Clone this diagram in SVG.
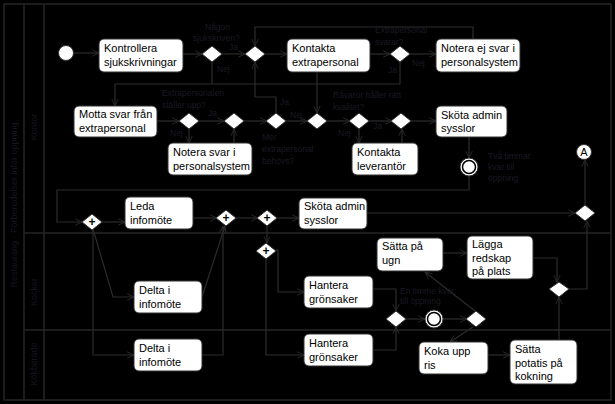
<svg xmlns="http://www.w3.org/2000/svg" width="615" height="404" viewBox="0 0 615 404">
<defs>
<marker id="a" viewBox="0 0 10 10" refX="9.5" refY="5" markerWidth="8" markerHeight="8" orient="auto" markerUnits="userSpaceOnUse"><path d="M1,1 L9.5,5 L1,9" fill="none" stroke="#2c2c2c" stroke-width="1.1"/></marker>
</defs>
<style>
.bg{fill:#000}
.pool{fill:none;stroke:#262626;stroke-width:1.5}
.e{fill:none;stroke:#2c2c2c;stroke-width:1.2;marker-end:url(#a)}
.n{fill:none;stroke:#2c2c2c;stroke-width:1.2}
.box{fill:#fff;stroke:#333;stroke-width:1}
.t{font-family:"Liberation Sans",Arial,sans-serif;font-size:11px;fill:#000}
.d{fill:#fff;stroke:#333;stroke-width:1}
.p{font-family:"Liberation Sans",Arial,sans-serif;font-size:12px;fill:#000;text-anchor:middle;font-weight:bold}
.l{font-family:"Liberation Sans",Arial,sans-serif;font-size:8.5px;fill:#1a1a22}
.ln{font-family:"Liberation Sans",Arial,sans-serif;font-size:9px;fill:#15151f;text-anchor:middle}
</style>
<rect class="bg" x="0" y="0" width="615" height="404"/>
<g id="pool">
<rect class="pool" x="4" y="4" width="607" height="396"/>
<line class="pool" x1="24" y1="4" x2="24" y2="400"/>
<line class="pool" x1="44" y1="4" x2="44" y2="400"/>
<line class="pool" x1="24" y1="233" x2="611" y2="233"/>
<line class="pool" x1="24" y1="330" x2="611" y2="330"/>
<text class="ln" transform="translate(17,205) rotate(-90)">Restaurang - Förberedelser inför öppning</text>
<text class="ln" transform="translate(37,127) rotate(-90)">Kontor</text>
<text class="ln" transform="translate(37,292) rotate(-90)">Kocker</text>
<text class="ln" transform="translate(37,364) rotate(-90)">Kökbiträde</text>
</g>
<g id="connectors">
<path class="e" d="M73,53 H99"/>
<path class="e" d="M182,54 H202"/>
<path class="e" d="M222,54 H245"/>
<path class="n" d="M212,62 V84"/>
<path class="e" d="M265,54 H287"/>
<path class="e" d="M473,39 V27 H255 V46"/>
<path class="e" d="M370,54 H390"/>
<path class="e" d="M409,54 H436"/>
<path class="e" d="M400,62 V84 H115 V106"/>
<path class="e" d="M317,72 V113"/>
<path class="e" d="M157,121 H179"/>
<path class="e" d="M199,121 H224"/>
<path class="e" d="M189,129 V143"/>
<path class="e" d="M234,143 V129"/>
<path class="e" d="M243,121 H267"/>
<path class="e" d="M276,113 V97 H255 V62"/>
<path class="e" d="M286,121 H307"/>
<path class="e" d="M327,121 H350"/>
<path class="e" d="M359,129 V143"/>
<path class="e" d="M368,121 H392"/>
<path class="e" d="M402,143 V129"/>
<path class="e" d="M410,121 H436"/>
<path class="e" d="M469,137 V158"/>
<path class="e" d="M469,176 V190 H57 V222 H82"/>
<path class="e" d="M102,222 H125"/>
<path class="e" d="M93,229 L113,297 H134"/>
<path class="e" d="M93,229 V355 H134"/>
<path class="e" d="M193,218 H217"/>
<path class="e" d="M202,297 L225,226"/>
<path class="e" d="M202,355 H223 V226"/>
<path class="e" d="M236,218 H258"/>
<path class="e" d="M277,218 H299"/>
<path class="e" d="M267,226 V243"/>
<path class="e" d="M276,250 H278 V292 H304"/>
<path class="e" d="M266,258 V355 H304"/>
<path class="e" d="M367,213 H575"/>
<path class="e" d="M585,206 V160"/>
<path class="e" d="M373,289 H396 V311"/>
<path class="e" d="M373,350 H396 V327"/>
<path class="e" d="M406,319 H425"/>
<path class="e" d="M443,319 H467"/>
<path class="e" d="M475,311 L425,272"/>
<path class="e" d="M473,327 L450,342"/>
<path class="e" d="M443,253 H467"/>
<path class="e" d="M533,258 H557 V282"/>
<path class="e" d="M559,340 V297"/>
<path class="e" d="M568,289 H587 V221"/>
<path class="e" d="M488,355 H510"/>
</g>
<g id="edge-labels">
<text class="l" x="205" y="30">Någon</text>
<text class="l" x="193" y="41">sjukskriven?</text>
<text class="l" x="229" y="50">Ja</text>
<text class="l" x="217" y="72">Nej</text>
<text class="l" x="375" y="33">Extrapersonal</text>
<text class="l" x="375" y="45">svarar?</text>
<text class="l" x="412" y="66">Nej</text>
<text class="l" x="388" y="73">Ja</text>
<text class="l" x="162" y="96">Extrapersonalen</text>
<text class="l" x="162" y="108">ställer upp?</text>
<text class="l" x="208" y="116">Ja</text>
<text class="l" x="170" y="136">Nej</text>
<text class="l" x="280" y="105">Ja</text>
<text class="l" x="290" y="118">Nej</text>
<text class="l" x="262" y="140">Mer</text>
<text class="l" x="262" y="152">extrapersonal</text>
<text class="l" x="262" y="164">behövs?</text>
<text class="l" x="333" y="98">Råvaror håller rätt</text>
<text class="l" x="333" y="110">kvalitet?</text>
<text class="l" x="338" y="136">Nej</text>
<text class="l" x="373" y="129">Ja</text>
<text class="l" x="488" y="159">Två timmar</text>
<text class="l" x="488" y="170">kvar till</text>
<text class="l" x="488" y="181">öppning</text>
<text class="l" x="400" y="294">En timme kvar</text>
<text class="l" x="400" y="304">till öppning</text>
</g>
<g id="start"><circle cx="66" cy="53" r="7.5" fill="#fff" stroke="#333"/></g>
<g id="n-kontrollera"><rect class="box" x="99" y="39" width="84" height="33" rx="5"/><text class="t" x="104" y="52">Kontrollera</text><text class="t" x="104" y="66">sjukskrivningar</text></g>
<g id="d1"><path class="d" d="M212,46 L222,54 L212,62 L202,54 Z"/></g>
<g id="d2"><path class="d" d="M255,46 L265,54 L255,62 L245,54 Z"/></g>
<g id="n-kontakta-extra"><rect class="box" x="287" y="39" width="83" height="33" rx="5"/><text class="t" x="292" y="52">Kontakta</text><text class="t" x="292" y="66">extrapersonal</text></g>
<g id="d3"><path class="d" d="M400,46 L410,54 L400,62 L390,54 Z"/></g>
<g id="n-notera-ej"><rect class="box" x="436" y="39" width="84" height="33" rx="5"/><text class="t" x="441" y="52">Notera ej svar i</text><text class="t" x="441" y="66">personalsystem</text></g>
<g id="n-motta"><rect class="box" x="74" y="106" width="83" height="31" rx="5"/><text class="t" x="79" y="118">Motta svar från</text><text class="t" x="79" y="132">extrapersonal</text></g>
<g id="d4"><path class="d" d="M189,113 L199,121 L189,129 L179,121 Z"/></g>
<g id="d5"><path class="d" d="M234,113 L244,121 L234,129 L224,121 Z"/></g>
<g id="d6"><path class="d" d="M276,113 L286,121 L276,129 L266,121 Z"/></g>
<g id="d7"><path class="d" d="M317,113 L327,121 L317,129 L307,121 Z"/></g>
<g id="d8"><path class="d" d="M359,113 L369,121 L359,129 L349,121 Z"/></g>
<g id="d9"><path class="d" d="M401,113 L411,121 L401,129 L391,121 Z"/></g>
<g id="n-skota1"><rect class="box" x="436" y="106" width="71" height="31" rx="5"/><text class="t" x="441" y="119">Sköta admin</text><text class="t" x="441" y="132">sysslor</text></g>
<g id="n-notera"><rect class="box" x="168" y="143" width="84" height="32" rx="5"/><text class="t" x="173" y="156">Notera svar i</text><text class="t" x="173" y="170">personalsystem</text></g>
<g id="n-kontakta-lev"><rect class="box" x="352" y="143" width="66" height="32" rx="5"/><text class="t" x="357" y="156">Kontakta</text><text class="t" x="357" y="170">leverantör</text></g>
<g id="ev1"><circle cx="469" cy="167" r="9" fill="#fff" stroke="#333"/><circle cx="469" cy="167" r="6.5" fill="#fff" stroke="#000" stroke-width="1.5"/></g>
<g id="conn-a"><circle cx="584" cy="152" r="7.5" fill="#fff" stroke="#333"/><text x="584" y="156" font-family="Liberation Sans,Arial,sans-serif" font-size="11" text-anchor="middle" fill="#000">A</text></g>
<g id="d10"><path class="d" d="M585,205 L595,213 L585,221 L575,213 Z"/></g>
<g id="g1"><path class="d" d="M92,214 L102,222 L92,230 L82,222 Z"/><text class="p" x="92" y="226">+</text></g>
<g id="n-leda"><rect class="box" x="125" y="197" width="68" height="32" rx="5"/><text class="t" x="130" y="210">Leda</text><text class="t" x="130" y="224">infomöte</text></g>
<g id="g2"><path class="d" d="M226,210 L236,218 L226,226 L216,218 Z"/><text class="p" x="226" y="222">+</text></g>
<g id="g3"><path class="d" d="M267,210 L277,218 L267,226 L257,218 Z"/><text class="p" x="267" y="222">+</text></g>
<g id="n-skota2"><rect class="box" x="299" y="198" width="68" height="31" rx="5"/><text class="t" x="304" y="210">Sköta admin</text><text class="t" x="304" y="224">sysslor</text></g>
<g id="g4"><path class="d" d="M266,243 L276,251 L266,259 L256,251 Z"/><text class="p" x="266" y="255">+</text></g>
<g id="n-ugn"><rect class="box" x="377" y="238" width="66" height="33" rx="5"/><text class="t" x="382" y="250">Sätta på</text><text class="t" x="382" y="264">ugn</text></g>
<g id="n-lagga"><rect class="box" x="467" y="236" width="66" height="43" rx="5"/><text class="t" x="472" y="248">Lägga</text><text class="t" x="472" y="262">redskap</text><text class="t" x="472" y="275">på plats</text></g>
<g id="n-delta1"><rect class="box" x="134" y="281" width="68" height="32" rx="5"/><text class="t" x="139" y="294">Delta i</text><text class="t" x="139" y="308">infomöte</text></g>
<g id="n-hantera1"><rect class="box" x="304" y="276" width="69" height="32" rx="5"/><text class="t" x="309" y="289">Hantera</text><text class="t" x="309" y="303">grönsaker</text></g>
<g id="d11"><path class="d" d="M396,311 L406,319 L396,327 L386,319 Z"/></g>
<g id="ev2"><circle cx="434" cy="319" r="9" fill="#fff" stroke="#333"/><circle cx="434" cy="319" r="6.5" fill="#fff" stroke="#000" stroke-width="1.5"/></g>
<g id="d12"><path class="d" d="M476,311 L486,319 L476,327 L466,319 Z"/></g>
<g id="d13"><path class="d" d="M559,282 L569,289 L559,297 L549,289 Z"/></g>
<g id="n-delta2"><rect class="box" x="134" y="339" width="68" height="32" rx="5"/><text class="t" x="139" y="352">Delta i</text><text class="t" x="139" y="366">infomöte</text></g>
<g id="n-hantera2"><rect class="box" x="304" y="334" width="69" height="32" rx="5"/><text class="t" x="309" y="347">Hantera</text><text class="t" x="309" y="361">grönsaker</text></g>
<g id="n-ris"><rect class="box" x="419" y="342" width="69" height="32" rx="5"/><text class="t" x="424" y="355">Koka upp</text><text class="t" x="424" y="369">ris</text></g>
<g id="n-potatis"><rect class="box" x="510" y="340" width="67" height="44" rx="5"/><text class="t" x="515" y="353">Sätta</text><text class="t" x="515" y="367">potatis på</text><text class="t" x="515" y="380">kokning</text></g>
</svg>
